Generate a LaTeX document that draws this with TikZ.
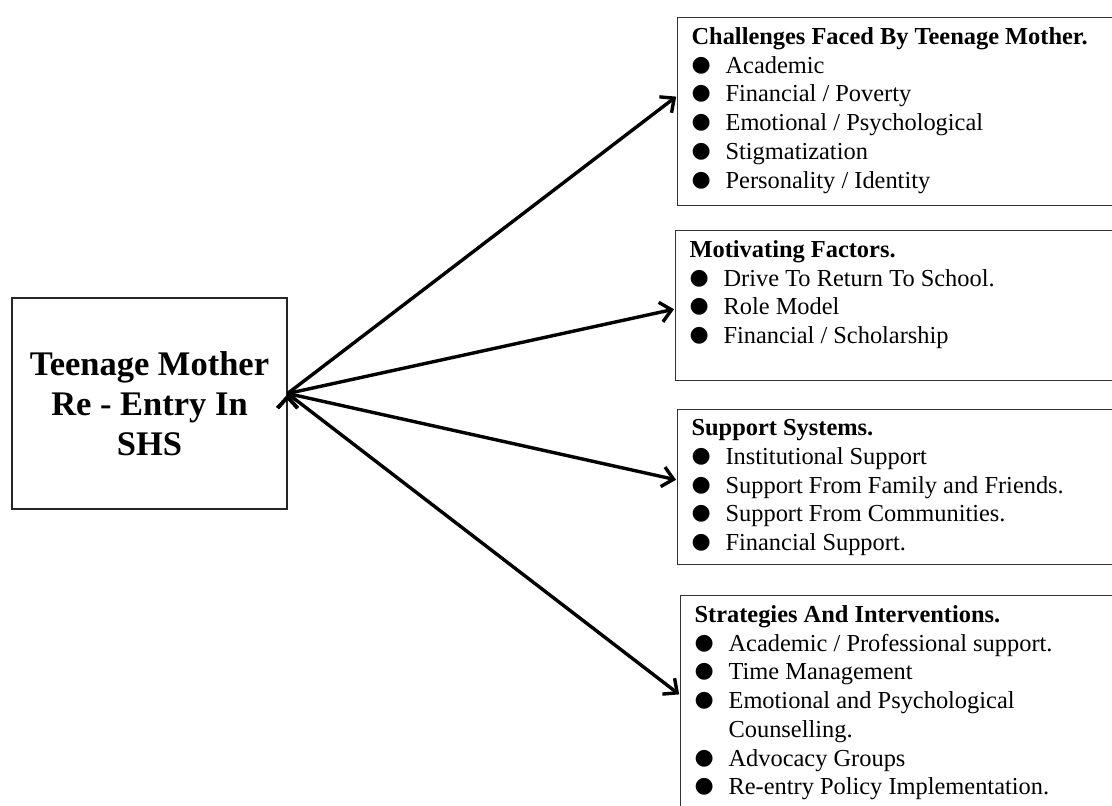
\documentclass[tikz,border=0pt]{standalone}
\usepackage{fontspec}
\setmainfont{Liberation Serif}
\newfontfamily\symfont{DejaVu Sans}
\usetikzlibrary{arrows.meta,positioning}
\newcommand{\bul}{\makebox[34pt][l]{\raisebox{2pt}{\smash{\symfont\fontsize{22}{22}\selectfont\symbol{"25CF}}}}}
\tikzset{%
mainnode/.style={draw=black!85, line width=1.2pt, minimum width=275pt, minimum height=211pt, align=center, font=\fontsize{34.5}{40}\selectfont\bfseries},
listnode/.style={draw=black!80, line width=1.2pt, anchor=north west, inner xsep=14pt, inner ysep=10pt, font=\fontsize{24.4}{28.7}\selectfont},
pt/.style={draw=black, line width=3.4pt, -{Straight Barb[length=11pt,width=20pt,line width=3.4pt]}, shorten >=1pt}
}
\begin{document}
\begin{tikzpicture}[x=1pt, y=-1pt]
			\useasboundingbox (0,0) rectangle (1112,806);
			\clip (0,0) rectangle (1112,806);
			\node[mainnode] (mother) at (149.5,403.5) {Teenage Mother\\Re - Entry In\\SHS};
			\coordinate (hub) at ([yshift=10pt]mother.east);
			\node[listnode] (chal) at (677,17) {\begin{minipage}[t][168pt][t]{430pt}
				\textbf{Challenges Faced By Teenage Mother.}\\
				\bul Academic\\
				\bul Financial / Poverty\\
				\bul Emotional / Psychological\\
				\bul Stigmatization\\
				\bul Personality / Identity
				\end{minipage}};
			\node[listnode] (motiv) at (675,230) {\begin{minipage}[t][130pt][t]{430pt}
				\textbf{Motivating Factors.}\\
				\bul Drive To Return To School.\\
				\bul Role Model\\
				\bul Financial / Scholarship
				\end{minipage}};
			\node[listnode] (supp) at (677,409) {\begin{minipage}[t][135pt][t]{430pt}
				\textbf{Support Systems.}\\
				\bul Institutional Support\\
				\bul Support From Family and Friends.\\
				\bul Support From Communities.\\
				\bul Financial Support.
				\end{minipage}};
			\node[listnode] (strat) at (680,595) {\begin{minipage}[t][230pt][t]{430pt}
				\textbf{Strategies And Interventions.}\\
				\bul Academic / Professional support.\\
				\bul Time Management\\
				\bul Emotional and Psychological\\
				\hspace*{34pt}Counselling.\\
				\bul Advocacy Groups\\
				\bul Re-entry Policy Implementation.
				\end{minipage}};
			\path[pt] (hub) edge ([yshift=-79pt]chal.north west);
			\path[pt] (hub) edge ([yshift=-79pt]motiv.north west);
			\path[pt] (hub) edge ([yshift=-71pt]supp.north west);
			\path[pt] (hub) edge ([yshift=-100pt]strat.north west);
		\end{tikzpicture}
\end{document}
